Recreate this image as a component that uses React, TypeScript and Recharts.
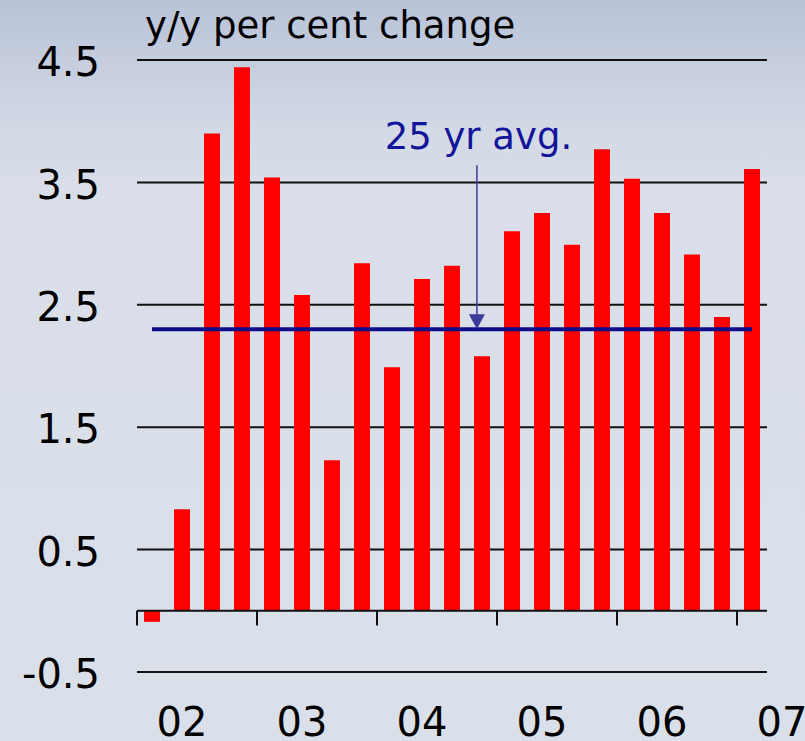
import React from 'react';
import { ComposedChart, Bar, Line, XAxis, YAxis, ReferenceLine } from 'recharts';

const quarters = [
  '02Q1', '02Q2', '02Q3', '02Q4',
  '03Q1', '03Q2', '03Q3', '03Q4',
  '04Q1', '04Q2', '04Q3', '04Q4',
  '05Q1', '05Q2', '05Q3', '05Q4',
  '06Q1', '06Q2', '06Q3', '06Q4',
  '07Q1', '07Q2',
];
const growth: (number | null)[] = [
  -0.09, 0.83, 3.9, 4.44,
  3.54, 2.58, 1.23, 2.84,
  1.99, 2.71, 2.82, 2.08,
  3.1, 3.25, 2.99, 3.77,
  3.53, 3.25, 2.91, 2.4,
  3.61, null,
];
const avg25 = 2.3;
const yTicks = [-0.5, 0.5, 1.5, 2.5, 3.5, 4.5];
const yearBoundaries = [0, 4, 8, 12, 16, 20];
const gridEnd = 21;
const tickDepth = -0.12;
const arrowX = 11.33;
const arrowTop = 3.64;

const data = quarters.map((q, i) => ({
  q,
  pos: i,
  value: growth[i],
  avg: growth[i] === null ? null : avg25,
}));

const FONT = '"DejaVu Sans", Verdana, sans-serif';

const ArrowShape = (p: any) => {
  const { x1, y1, x2, y2 } = p;
  const top = Math.min(y1, y2);
  const tip = Math.max(y1, y2);
  return (
    <g>
      <text x={x1 + 1.5} y={top - 16} textAnchor="middle" fontSize={37} fontFamily={FONT} fill="#14149a">
        25 yr avg.
      </text>
      <line x1={x1} y1={top} x2={x2} y2={tip - 14} stroke="#3c3c9c" strokeWidth={1.5} />
      <polygon points={`${x1 - 8},${tip - 15} ${x1 + 8},${tip - 15} ${x1},${tip}`} fill="#3c3c9c" />
    </g>
  );
};

export default function App() {
  return (
    <div
      style={{
        position: 'absolute',
        left: 0,
        top: 0,
        width: 805,
        height: 741,
        overflow: 'hidden',
        background: 'linear-gradient(to bottom, #b9c3d8 0%, #d3d9e5 18%, #d9dee8 26%, #dae0ea 100%)',
      }}
    >
      <div
        style={{
          position: 'absolute',
          left: 145,
          top: 7,
          fontFamily: FONT,
          fontSize: 37,
          lineHeight: '37px',
          color: '#000',
          whiteSpace: 'nowrap',
        }}
      >
        y/y per cent change
      </div>
      <ComposedChart width={805} height={741} data={data} margin={{ top: 60, right: 8, bottom: 0, left: 0 }}>
        <XAxis
          dataKey="q"
          interval={0}
          axisLine={false}
          tickLine={false}
          tickSize={0}
          tickMargin={36}
          height={69}
          tick={{ fontSize: 40, fontFamily: FONT, fill: '#000' }}
          tickFormatter={(q: string) => (q.endsWith('Q2') ? q.slice(0, 2) : '')}
        />
        <XAxis xAxisId="n" type="number" dataKey="pos" domain={[0, 22]} hide allowDataOverflow />
        <YAxis
          domain={[-0.5, 4.5]}
          ticks={yTicks}
          interval={0}
          width={137}
          axisLine={false}
          tickLine={false}
          tickSize={0}
          tickMargin={37}
          allowDataOverflow
          tick={{ fontSize: 40, fontFamily: FONT, fill: '#000', dy: 2 }}
          tickFormatter={(v: number) => v.toFixed(1)}
        />
        {yTicks.map((v) => (
          <ReferenceLine
            key={'g' + v}
            xAxisId="n"
            segment={[{ x: 0, y: v }, { x: gridEnd, y: v }]}
            stroke="#111"
            strokeWidth={2}
            zIndex={-100}
          />
        ))}
        <Bar dataKey="value" fill="#ff0000" barSize={16} isAnimationActive={false} />
        <ReferenceLine
          xAxisId="n"
          segment={[{ x: 0, y: 0 }, { x: gridEnd, y: 0 }]}
          stroke="#111"
          strokeWidth={2}
        />
        {yearBoundaries.map((b) => (
          <ReferenceLine
            key={'t' + b}
            xAxisId="n"
            segment={[{ x: b, y: 0 }, { x: b, y: tickDepth }]}
            stroke="#111"
            strokeWidth={2}
          />
        ))}
        <Line dataKey="avg" stroke="#0c0c88" strokeWidth={4} dot={false} activeDot={false} isAnimationActive={false} />
        <ReferenceLine
          xAxisId="n"
          segment={[{ x: arrowX, y: arrowTop }, { x: arrowX, y: avg25 }]}
          shape={ArrowShape}
          zIndex={2000}
        />
      </ComposedChart>
    </div>
  );
}
